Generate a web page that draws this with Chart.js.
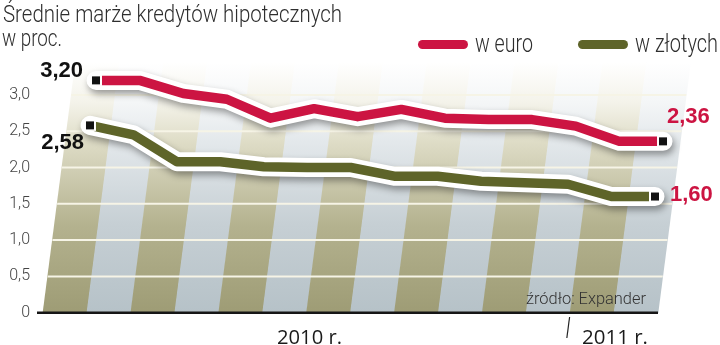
<!DOCTYPE html>
<html>
<head>
<meta charset="utf-8">
<script src="https://cdn.jsdelivr.net/npm/chart.js@4/dist/chart.umd.min.js"></script>
<style>
html,body{margin:0;padding:0;background:#fff;}
#wrap{position:relative;width:720px;height:345px;overflow:hidden;}
#c{position:absolute;left:0;top:0;}
.t{position:absolute;white-space:nowrap;line-height:1;transform-origin:0 0;}
.pill{position:absolute;height:9px;width:50px;border-radius:5px;}
</style>
</head>
<body>
<div id="wrap">
  <canvas id="c" width="720" height="345"></canvas>
  <div class="t fit" data-w="339" style="left:3px;top:0px;font:300 23.5px Roboto;color:#2e2e2e;">Średnie marże kredytów hipotecznych</div>
  <div class="t fit" data-w="60" style="left:2px;top:23.5px;font:300 23.5px Roboto;color:#2e2e2e;">w proc.</div>
  <div class="pill" style="left:418px;top:40px;background:#cc1442;"></div>
  <div class="t fit" data-w="58" style="left:475px;top:29px;font:300 25px Roboto;color:#2e2e2e;">w euro</div>
  <div class="pill" style="left:578px;top:40px;background:#5e6429;"></div>
  <div class="t fit" data-w="83" style="left:635px;top:29px;font:300 25px Roboto;color:#2e2e2e;">w złotych</div>
  <div class="t fit" data-w="120" style="left:526px;top:289px;font:300 16px Roboto;color:#333;">źródło: Expander</div>
  <div class="t fit" data-w="65" style="left:277px;top:322.5px;font:400 19.5px 'Open Sans';color:#1a1a1a;">2010 r.</div>
  <div class="t fit" data-w="66" style="left:582px;top:322.5px;font:400 19.5px 'Open Sans';color:#1a1a1a;">2011 r.</div>
</div>
<script>
// ---- data ----
const months = ['I','II','III','IV','V','VI','VII','VIII','IX','X','XI','XII','I','II'];
const euro  = [3.20, 3.20, 3.02, 2.94, 2.68, 2.81, 2.70, 2.80, 2.68, 2.66, 2.66, 2.57, 2.36, 2.36];
const zloty = [2.58, 2.45, 2.08, 2.08, 2.01, 2.00, 2.00, 1.88, 1.88, 1.81, 1.79, 1.77, 1.60, 1.60];
const stripeTop = [3.45, 3.45, 3.45, 3.45, 3.45, 3.45, 3.45, 3.45, 3.45, 3.45, 3.45, 3.45, 3.45, 3.45];
const yTicks = [0, 0.5, 1.0, 1.5, 2.0, 2.5, 3.0];

// ---- styles ----
const RED = '#cc1442', OLIVE = '#5e6429';
const SKEW = 0.13;
const fmt = v => v.toFixed(2).replace('.', ',');

const gradCache = {};
function stripeColor(c) {
  const chart = c.chart, area = chart.chartArea;
  if (!area) return '#ccc';
  const key = c.dataIndex % 2;
  if (gradCache[key]) return gradCache[key];
  const y = chart.scales.y;
  const g = chart.ctx.createLinearGradient(0, y.getPixelForValue(0), 0, y.getPixelForValue(3.45));
  if (key === 0) {
    g.addColorStop(0, 'rgb(158,156,117)');
    g.addColorStop(0.35, 'rgb(180,178,143)');
    g.addColorStop(0.68, 'rgb(222,220,198)');
    g.addColorStop(0.84, 'rgb(244,243,234)');
    g.addColorStop(1, 'rgb(255,255,255)');
  } else {
    g.addColorStop(0, 'rgb(182,194,200)');
    g.addColorStop(0.35, 'rgb(198,207,212)');
    g.addColorStop(0.68, 'rgb(227,232,235)');
    g.addColorStop(0.84, 'rgb(244,246,247)');
    g.addColorStop(1, 'rgb(255,255,255)');
  }
  gradCache[key] = g;
  return g;
}

const deco = {
  id: 'deco',
  beforeDatasetDraw(chart, args) {
    const ds = chart.data.datasets[args.index];
    const ctx = chart.ctx;
    if (ds.role === 'stripes') {
      ctx.save();
      const yb = chart.chartArea.bottom;
      ctx.transform(1, 0, -SKEW, 1, SKEW * yb, 0);
    } else if (ds.role === 'halo') {
      ctx.save();
      ctx.shadowColor = 'rgba(0,0,0,0.38)';
      ctx.shadowBlur = 7;
      ctx.shadowOffsetX = 2;
      ctx.shadowOffsetY = 4;
    }
  },
  afterDatasetDraw(chart, args) {
    const ds = chart.data.datasets[args.index];
    const ctx = chart.ctx;
    const area = chart.chartArea;
    if (ds.role === 'stripes') {
      const ys = chart.scales.y;
      ctx.strokeStyle = '#f6f4e6';
      ctx.lineWidth = 2;
      yTicks.forEach(v => {
        if (v === 0) return;
        const y = ys.getPixelForValue(v);
        ctx.beginPath();
        ctx.moveTo(area.left, y);
        ctx.lineTo(area.right, y);
        ctx.stroke();
      });
      ctx.restore();
      const yb = ys.getPixelForValue(0);
      ctx.save();
      ctx.strokeStyle = '#161616';
      ctx.lineWidth = 2.5;
      ctx.beginPath();
      ctx.moveTo(area.left - 6, yb);
      ctx.lineTo(area.right, yb);
      ctx.stroke();
      const xb = chart.scales.xb;
      const bx = (xb.getPixelForValue(11) + xb.getPixelForValue(12)) / 2;
      ctx.strokeStyle = '#222';
      ctx.lineWidth = 1.2;
      ctx.beginPath();
      ctx.moveTo(bx + SKEW * (yb - 317), 317);
      ctx.lineTo(bx + SKEW * (yb - 338), 338);
      ctx.stroke();
      ctx.restore();
    } else if (ds.role === 'halo') {
      ctx.restore();
    }
  },
  afterDatasetsDraw(chart) {
    const ctx = chart.ctx;
    ctx.save();
    const marker = (p) => {
      ctx.fillStyle = '#fff';
      ctx.fillRect(p.x - 6, p.y - 5.5, 12, 11);
      ctx.fillStyle = '#111';
      ctx.fillRect(p.x - 4, p.y - 4, 8, 8);
    };
    const mE = chart.getDatasetMeta(0).data, mZ = chart.getDatasetMeta(1).data;
    const e0 = mE[0], eN = mE[mE.length - 1], z0 = mZ[0], zN = mZ[mZ.length - 1];
    [e0, eN, z0, zN].forEach(marker);
    ctx.font = 'bold 22px "Liberation Sans"';
    ctx.textBaseline = 'alphabetic';
    ctx.fillStyle = '#111';
    ctx.textAlign = 'right';
    ctx.fillText(fmt(euro[0]), e0.x - 13, e0.y - 3);
    ctx.fillText(fmt(zloty[0]), z0.x - 6, z0.y + 23.5);
    ctx.fillStyle = RED;
    ctx.textAlign = 'left';
    ctx.fillText(fmt(euro[euro.length - 1]), eN.x + 4, eN.y - 18);
    ctx.fillText(fmt(zloty[zloty.length - 1]), zN.x + 15, zN.y + 4.5);
    ctx.restore();
  }
};

const pts = arr => arr.map((v, i) => ({ x: i, y: v }));

new Chart(document.getElementById('c'), {
  data: {
    labels: months,
    datasets: [
      { type: 'line', role: 'line', data: pts(euro), xAxisID: 'xe', yAxisID: 'y', order: 1,
        borderColor: RED, borderWidth: 9.5, pointRadius: 0, tension: 0, clip: false,
        borderJoinStyle: 'round', borderCapStyle: 'butt' },
      { type: 'line', role: 'line', data: pts(zloty), xAxisID: 'xz', yAxisID: 'y', order: 1,
        borderColor: OLIVE, borderWidth: 9.5, pointRadius: 0, tension: 0, clip: false,
        borderJoinStyle: 'round', borderCapStyle: 'butt' },
      { type: 'line', role: 'halo', data: pts(euro), xAxisID: 'xe', yAxisID: 'y', order: 2,
        borderColor: '#ffffff', borderWidth: 19, pointRadius: 0, tension: 0, clip: false,
        borderJoinStyle: 'round', borderCapStyle: 'round' },
      { type: 'line', role: 'halo', data: pts(zloty), xAxisID: 'xz', yAxisID: 'y', order: 2,
        borderColor: '#ffffff', borderWidth: 19, pointRadius: 0, tension: 0, clip: false,
        borderJoinStyle: 'round', borderCapStyle: 'round' },
      { type: 'bar', role: 'stripes', data: stripeTop, xAxisID: 'xb', yAxisID: 'y', order: 3,
        backgroundColor: stripeColor, borderWidth: 0, barPercentage: 1, categoryPercentage: 1,
        grouped: false, clip: false }
    ]
  },
  options: {
    responsive: false,
    animation: false,
    devicePixelRatio: 1,
    layout: { padding: { left: 0, right: 62, top: 58.6, bottom: 32.3 } },
    plugins: { legend: { display: false }, tooltip: { enabled: false } },
    scales: {
      xb: { type: 'category', display: false, offset: true, grid: { offset: true } },
      xe: { type: 'linear', display: false, min: -1.215, max: 12.885 },
      xz: { type: 'linear', display: false, min: -1.081, max: 13.069 },
      y: {
        position: 'left', min: 0, max: 3.5,
        afterFit: s => { s.width = 43; },
        afterBuildTicks: s => { s.ticks = yTicks.map(v => ({ value: v })); },
        grid: { display: false, drawTicks: false },
        border: { display: false },
        ticks: {
          padding: 13,
          color: '#444',
          font: { family: 'Roboto', size: 16, weight: 300 },
          callback: v => v === 0 ? '0' : v.toFixed(1).replace('.', ',')
        }
      }
    }
  },
  plugins: [deco]
});

function fit() {
  document.querySelectorAll('.fit').forEach(el => {
    el.style.transform = 'none';
    const w = el.getBoundingClientRect().width;
    const target = parseFloat(el.dataset.w);
    if (w > 0) el.style.transform = 'scaleX(' + (target / w) + ')';
  });
}
fit();
if (document.fonts && document.fonts.ready) document.fonts.ready.then(fit);
</script>
</body>
</html>
